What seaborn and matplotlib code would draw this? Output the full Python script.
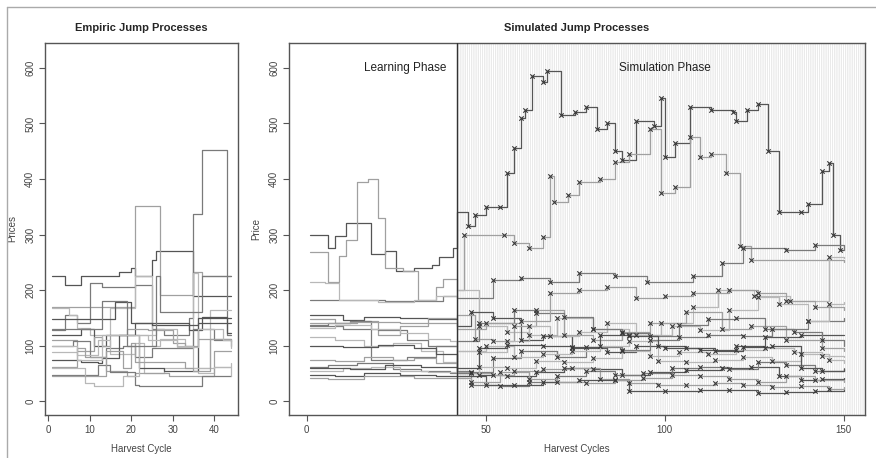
import pandas as pd
import matplotlib.pyplot as plt
import seaborn as sns
from matplotlib.lines import Line2D

# empiric jump processes: (harvest cycle, price) at each jump
emp01 = [(1, 225), (4, 210), (8, 225), (17, 233), (20, 240), (21, 225), (25, 255), (26, 270), (35, 190), (44, 190)]
emp02 = [(1, 170), (13, 170), (21, 352), (27, 192), (35, 232), (37, 225), (44, 225)]
emp03 = [(1, 128), (4, 155), (7, 140), (10, 212), (13, 205), (21, 210), (25, 130), (28, 120), (34, 150), (35, 337), (37, 452), (43, 120), (44, 120)]
emp04 = [(1, 168), (5, 155), (7, 132), (10, 120), (15, 168), (21, 225), (25, 100), (27, 112), (33, 100), (35, 230), (36, 60), (39, 165), (44, 165)]
emp05 = [(1, 120), (8, 130), (11, 100), (14, 120), (21, 140), (34, 128), (37, 152), (43, 122), (44, 122)]
emp06 = [(1, 110), (7, 90), (11, 115), (13, 100), (15, 120), (19, 130), (24, 128), (30, 105), (33, 100), (36, 112), (44, 108)]
emp07 = [(1, 100), (6, 108), (10, 80), (14, 95), (18, 100), (21, 80), (25, 95), (35, 130), (40, 110), (44, 100)]
emp08 = [(1, 88), (7, 84), (12, 110), (15, 85), (21, 105), (23, 50), (28, 60), (36, 50), (40, 62), (44, 68)]
emp09 = [(1, 75), (8, 70), (12, 68), (13, 78), (17, 120), (22, 60), (28, 55), (36, 140), (44, 140)]
emp10 = [(1, 62), (7, 95), (9, 80), (14, 55), (19, 45), (21, 50), (29, 45), (37, 46), (40, 90), (44, 90)]
emp11 = [(1, 47), (11, 47), (12, 65), (15, 52), (21, 30), (22, 28), (36, 28), (37, 46), (44, 46)]
emp12 = [(1, 60), (9, 32), (11, 28), (18, 45), (22, 120), (26, 130), (31, 100), (35, 60), (40, 62), (44, 45)]
emp13 = [(1, 148), (7, 148), (16, 178), (20, 140), (25, 138), (36, 150), (44, 150)]
emp14 = [(1, 45), (10, 45), (14, 90), (18, 60), (20, 104), (21, 70), (33, 60), (35, 55), (39, 112), (44, 112)]
emp15 = [(1, 130), (9, 130), (13, 180), (19, 100), (26, 225), (27, 160), (37, 225), (44, 225)]
emp16 = [(1, 100), (7, 75), (13, 120), (24, 110), (31, 98), (36, 130), (42, 110), (44, 95)]

# simulated jump processes (learning phase up to cycle 42, then simulated)
sim01 = [(1, 300), (6, 275), (8, 297), (11, 320), (17, 320), (18, 265), (22, 270), (25, 235), (30, 240), (35, 245), (37, 260), (41, 275),
         (42, 340), (45, 315), (47, 335), (50, 350), (54, 350), (56, 410), (58, 455), (60, 510), (61, 525), (63, 585), (66, 575), (67, 595),
         (71, 515), (75, 520), (78, 530), (81, 490), (84, 500), (86, 450), (88, 435), (92, 505), (97, 495), (99, 545), (100, 440), (103, 465),
         (107, 530), (113, 525), (119, 520), (120, 505), (123, 525), (126, 535), (129, 450), (132, 340), (138, 340), (140, 355), (144, 415),
         (146, 428), (147, 300), (149, 272), (150, 272)]
sim02 = [(1, 268), (6, 215), (9, 262), (11, 290), (14, 395), (17, 400), (20, 330), (22, 240), (27, 235), (31, 183), (36, 205), (38, 220),
         (42, 200), (44, 300), (55, 300), (58, 285), (62, 275), (66, 295), (68, 405), (69, 358), (73, 372), (76, 395), (82, 400), (86, 430),
         (90, 445), (96, 490), (99, 375), (103, 385), (107, 475), (110, 440), (113, 445), (117, 410), (121, 280), (124, 255), (150, 250)]
sim03 = [(1, 182), (22, 180), (38, 190), (42, 185), (52, 218), (60, 222), (68, 215), (76, 230), (86, 225), (95, 215), (108, 225),
         (116, 248), (122, 276), (134, 272), (142, 282), (150, 272)]
sim04 = [(1, 215), (5, 213), (9, 182), (20, 178), (30, 182), (36, 190), (42, 200), (48, 135), (56, 125), (62, 120), (70, 150), (80, 130),
         (90, 120), (99, 140), (108, 170), (115, 200), (125, 190), (135, 180), (146, 260), (150, 258)]
sim05 = [(1, 155), (10, 147), (16, 152), (26, 150), (34, 148), (42, 135), (46, 160), (52, 150), (60, 110), (66, 118), (74, 95), (84, 88),
         (92, 100), (100, 95), (110, 92), (120, 100), (128, 115), (138, 120), (150, 120)]
sim06 = [(1, 148), (8, 140), (14, 145), (20, 120), (26, 135), (34, 150), (42, 155), (47, 112), (52, 108), (58, 135), (64, 165), (72, 120),
         (80, 110), (88, 125), (96, 140), (106, 160), (116, 130), (124, 135), (134, 110), (144, 95), (150, 90)]
sim07 = [(1, 138), (6, 140), (12, 145), (18, 75), (28, 80), (36, 100), (42, 55), (46, 52), (52, 78), (60, 90), (70, 80), (78, 98),
         (88, 92), (96, 110), (104, 115), (112, 120), (122, 118), (130, 130), (140, 145), (150, 150)]
sim08 = [(1, 115), (8, 110), (16, 100), (24, 105), (32, 90), (38, 70), (42, 90), (48, 88), (56, 108), (62, 135), (68, 118), (76, 125),
         (84, 140), (92, 120), (102, 135), (110, 128), (118, 165), (126, 188), (132, 175), (140, 145), (146, 175), (150, 178)]
sim09 = [(1, 100), (10, 98), (20, 102), (30, 95), (36, 85), (42, 50), (48, 47), (56, 45), (64, 52), (72, 60), (80, 58), (88, 48),
         (96, 52), (106, 56), (116, 60), (124, 62), (132, 45), (138, 38), (144, 40), (150, 42)]
sim10 = [(1, 75), (8, 72), (16, 80), (24, 75), (30, 78), (36, 68), (42, 52), (46, 50), (52, 48), (58, 55), (66, 58), (74, 60), (82, 40),
         (90, 32), (98, 30), (106, 30), (114, 32), (122, 30), (130, 25), (138, 28), (146, 22), (150, 25)]
sim11 = [(1, 62), (6, 65), (14, 68), (24, 58), (32, 54), (40, 50), (42, 50), (46, 30), (54, 28), (62, 35), (70, 45), (78, 55), (86, 48),
         (94, 50), (102, 60), (110, 62), (118, 58), (126, 70), (134, 66), (142, 55), (150, 60)]
sim12 = [(1, 55), (10, 60), (18, 62), (26, 55), (34, 52), (42, 45), (48, 62), (56, 60), (64, 72), (72, 70), (80, 78), (88, 90), (96, 82),
         (104, 88), (112, 85), (120, 92), (128, 95), (136, 88), (144, 82), (150, 80)]
sim13 = [(1, 48), (8, 45), (16, 50), (26, 48), (36, 45), (42, 45), (50, 30), (58, 30), (66, 35), (76, 38), (86, 38), (90, 18), (100, 18),
         (110, 20), (118, 20), (126, 15), (134, 17), (142, 18), (150, 20)]
sim14 = [(1, 42), (6, 40), (16, 45), (30, 42), (42, 42), (46, 35), (54, 52), (62, 40), (70, 35), (78, 32), (86, 38), (94, 42), (102, 48),
         (110, 45), (118, 40), (126, 35), (134, 45), (142, 38), (150, 35)]
sim15 = [(1, 135), (10, 130), (20, 128), (28, 110), (34, 100), (42, 108), (48, 140), (58, 165), (64, 158), (72, 152), (80, 130), (88, 122),
         (96, 118), (104, 138), (112, 148), (120, 150), (128, 130), (136, 125), (144, 110), (150, 100)]
sim16 = [(1, 132), (8, 138), (18, 130), (26, 122), (34, 112), (40, 108), (42, 90), (50, 100), (58, 80), (66, 85), (74, 90), (82, 100),
         (90, 108), (98, 72), (106, 70), (114, 75), (122, 80), (130, 72), (138, 85), (146, 75), (150, 68)]
sim17 = [(1, 60), (12, 58), (22, 65), (32, 62), (42, 60), (48, 95), (56, 102), (66, 100), (74, 98), (82, 120), (90, 118), (98, 100),
         (106, 95), (114, 90), (122, 98), (130, 100), (138, 60), (144, 55), (150, 58)]
sim18 = [(1, 140), (12, 142), (26, 140), (42, 130), (50, 140), (60, 145), (68, 195), (76, 200), (84, 205), (92, 185), (100, 190),
         (108, 195), (118, 200), (126, 195), (134, 180), (142, 170), (150, 165)]

emp_series = [emp01, emp02, emp03, emp04, emp05, emp06, emp07, emp08, emp09, emp10, emp11, emp12, emp13, emp14, emp15, emp16]
sim_series = [sim01, sim02, sim03, sim04, sim05, sim06, sim07, sim08, sim09, sim10, sim11, sim12, sim13, sim14, sim15, sim16, sim17, sim18]
learn_end = 42


def to_frame(series_list):
    rows = []
    for i, s in enumerate(series_list):
        for cyc, price in s:
            rows.append({'id': i, 'cycle': cyc, 'price': price})
    return pd.DataFrame(rows)


emp = to_frame(emp_series)
sim = to_frame(sim_series)
greys = ['#555555', '#a0a0a0', '#7a7a7a', '#b8b8b8']

sns.set_style('white')
plt.rcParams['font.family'] = ['Liberation Sans', 'DejaVu Sans']
plt.rcParams['hatch.linewidth'] = 0.4

fig = plt.figure(figsize=(8.76, 4.58), dpi=100)
ax1 = fig.add_axes([0.0514, 0.0939, 0.2203, 0.8122])
ax2 = fig.add_axes([0.3299, 0.0939, 0.6575, 0.8122])

sns.lineplot(data=emp, x='cycle', y='price', hue='id', units='id', estimator=None,
             palette=[greys[i % 4] for i in range(len(emp_series))], drawstyle='steps-post',
             linewidth=0.9, legend=False, ax=ax1)

# shaded simulation phase
ax2.axvspan(learn_end, 160, facecolor='white', edgecolor='#dadada', hatch='|' * 9, linewidth=0.8, zorder=0)
sns.lineplot(data=sim, x='cycle', y='price', hue='id', units='id', estimator=None,
             palette=[greys[i % 4] for i in range(len(sim_series))], drawstyle='steps-post',
             linewidth=0.9, legend=False, ax=ax2)
jumps = sim[(sim['cycle'] > learn_end) & (sim['cycle'] < 150)]
sns.scatterplot(data=jumps, x='cycle', y='price', marker='x', color='#3a3a3a', s=10, linewidth=0.8, ax=ax2, zorder=5)
ax2.axvline(learn_end, color='#333333', linewidth=1.0, zorder=6)

ax1.set_xlim(-0.72, 45.72)
ax2.set_xlim(-4.96, 155.96)
for ax in (ax1, ax2):
    ax.set_ylim(-24.8, 644.8)
    ax.set_yticks([0, 100, 200, 300, 400, 500, 600])
    for sp in ax.spines.values():
        sp.set_color('#555555')
        sp.set_linewidth(1.0)
    ax.tick_params(axis='both', which='both', direction='out', length=4, width=0.8, color='#555555',
                   labelsize=7, labelcolor='#444444', pad=3, bottom=True, left=True)
    for lbl in ax.get_yticklabels():
        lbl.set_rotation(90)
        lbl.set_va('center')
ax1.set_xticks([0, 10, 20, 30, 40])
ax2.set_xticks([0, 50, 100, 150])

ax1.set_xlabel('Harvest Cycle', fontsize=7, color='#444444', labelpad=7)
ax1.set_ylabel('Prices', fontsize=7, color='#444444', labelpad=6)
ax2.set_xlabel('Harvest Cycles', fontsize=7, color='#444444', labelpad=7)
ax2.set_ylabel('Price', fontsize=7, color='#444444', labelpad=6)
ax1.set_title('Empiric Jump Processes', fontsize=8, fontweight='bold', pad=9)
ax2.set_title('Simulated Jump Processes', fontsize=8, fontweight='bold', pad=9)

ax2.text(27.5, 600, 'Learning Phase', ha='center', va='center', fontsize=8.5, color='#222222')
ax2.text(100, 600, 'Simulation Phase', ha='center', va='center', fontsize=8.5, color='#222222')

# screenshot frame
fig.add_artist(Line2D([0.008, 1.0], [0.985, 0.985], transform=fig.transFigure, color='#aaaaaa', linewidth=1))
fig.add_artist(Line2D([0.008, 0.008], [0.0, 0.985], transform=fig.transFigure, color='#aaaaaa', linewidth=1))

fig.savefig('out.png', dpi=100)
